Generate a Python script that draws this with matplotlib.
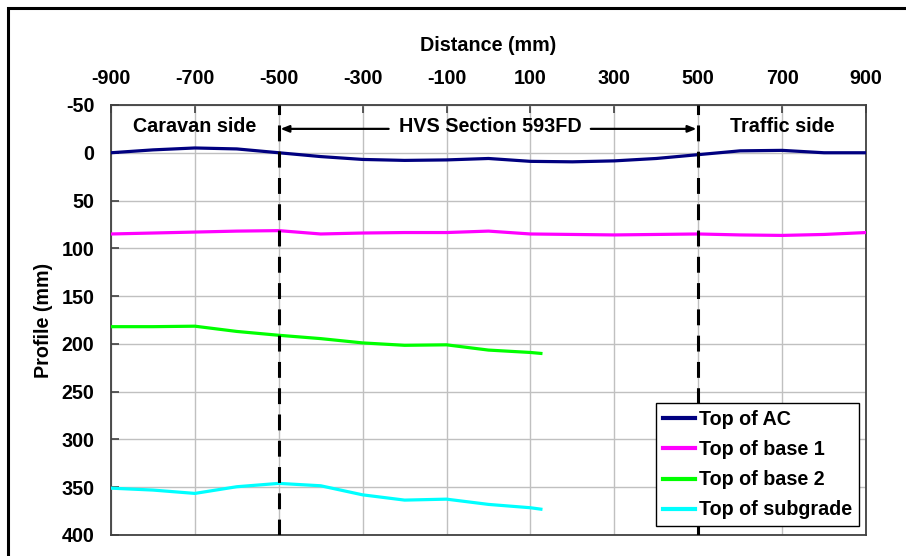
import matplotlib
matplotlib.use("Agg")
import matplotlib.pyplot as plt
from matplotlib.patches import Rectangle

plt.rcParams['font.family'] = ['Liberation Sans', 'DejaVu Sans']
plt.rcParams['font.weight'] = 'bold'
plt.rcParams['axes.unicode_minus'] = False

# Offsets across the section (mm)
dist_full = [-900, -800, -700, -600, -500, -400, -300, -200, -100, 0,
             100, 200, 300, 400, 500, 600, 700, 800, 900]
dist_part = [-900, -800, -700, -600, -500, -400, -300, -200, -100, 0, 100, 125]

# Layer profiles (mm, positive downwards)
top_ac = [0, -3, -5, -4, 0, 4, 7, 8, 7.5, 6, 9, 9.5, 8.5, 6, 2, -2, -2.5, 0, 0]
top_base1 = [85, 84, 83, 82, 81.5, 85, 84, 83.5, 83.5, 82, 85, 85.5, 86,
             85.5, 85, 86, 86.5, 85.5, 83.5]
top_base2 = [182, 182, 181.5, 187, 191, 194.5, 199, 201.5, 201, 206.5, 209, 210]
top_subgrade = [351, 353, 356.5, 349.5, 346, 348.5, 358, 363.5, 362.5, 368,
                371.5, 373]

series_names = ["Top of AC", "Top of base 1", "Top of base 2", "Top of subgrade"]
series_colors = ["#000080", "#FF00FF", "#00FF00", "#00FFFF"]

x_ticks = [-900, -700, -500, -300, -100, 100, 300, 500, 700, 900]
y_ticks = [-50, 0, 50, 100, 150, 200, 250, 300, 350, 400]
section_edges = [-500, 500]

FS = 14.2

fig = plt.figure(figsize=(9.06, 5.56), dpi=100)
ax = fig.add_axes([0.1225, 0.0378, 0.9558 - 0.1225, 0.8112 - 0.0378])

ax.plot(dist_full, top_ac, color=series_colors[0], lw=2.3,
        solid_joinstyle='round', label=series_names[0], zorder=3)
ax.plot(dist_full, top_base1, color=series_colors[1], lw=2.3,
        solid_joinstyle='round', label=series_names[1], zorder=3)
ax.plot(dist_part, top_base2, color=series_colors[2], lw=2.3,
        solid_joinstyle='round', label=series_names[2], zorder=3)
ax.plot(dist_part, top_subgrade, color=series_colors[3], lw=2.3,
        solid_joinstyle='round', label=series_names[3], zorder=3)

for xe in section_edges:
    ax.axvline(xe, color='black', lw=2.2, dashes=(5.2, 3.4), zorder=4)

ax.set_xlim(-900, 900)
ax.set_ylim(400, -50)
ax.set_xticks(x_ticks)
ax.set_yticks(y_ticks)
ax.xaxis.tick_top()
ax.xaxis.set_label_position('top')
ax.tick_params(axis='both', direction='in', length=6, width=1.2,
               color='#404040', labelsize=FS)
ax.tick_params(axis='x', pad=12.5)
ax.tick_params(axis='y', pad=12)
for lab in ax.get_xticklabels() + ax.get_yticklabels():
    lab.set_fontweight('bold')

ax.set_xlabel("Distance (mm)", fontsize=FS, fontweight='bold', labelpad=13)
ax.set_ylabel("Profile (mm)", fontsize=FS, fontweight='bold', labelpad=6)

ax.grid(True, color='#c0c0c0', lw=1.0)
ax.set_axisbelow(True)
for sp in ax.spines.values():
    sp.set_color('#404040')
    sp.set_linewidth(1.3)

# Zone annotations
ax.text(-700, -27, "Caravan side", ha='center', va='center',
        fontsize=FS, fontweight='bold', zorder=5)
ax.text(700, -27, "Traffic side", ha='center', va='center',
        fontsize=FS, fontweight='bold', zorder=5)
ax.text(5, -27, "HVS Section 593FD", ha='center', va='center',
        fontsize=FS, fontweight='bold', zorder=5)
arrow_kw = dict(arrowstyle='-|>,head_length=0.5,head_width=0.2',
                color='black', lw=1.6, shrinkA=0, shrinkB=0)
ax.annotate("", xy=(-496, -25), xytext=(-238, -25), arrowprops=arrow_kw,
            zorder=5)
ax.annotate("", xy=(496, -25), xytext=(244, -25), arrowprops=arrow_kw,
            zorder=5)

leg = ax.legend(loc='lower right', bbox_to_anchor=(0.991, 0.02),
                prop={'size': FS, 'weight': 'bold'}, frameon=True,
                fancybox=False, framealpha=1, edgecolor='black',
                handlelength=1.65, handletextpad=0.2, labelspacing=0.56,
                borderpad=0.35, borderaxespad=0)
leg.get_frame().set_linewidth(1.0)
leg.set_zorder(10)
for h in leg.get_lines():
    h.set_linewidth(3)

# Outer frame around the chart
fig.patches.append(Rectangle((8 / 906, -0.1), 1.2, 0.1 + 1 - 8 / 556,
                             transform=fig.transFigure, fill=False,
                             edgecolor='black', lw=2.2, clip_on=False))

fig.savefig("out.png", dpi=100)
